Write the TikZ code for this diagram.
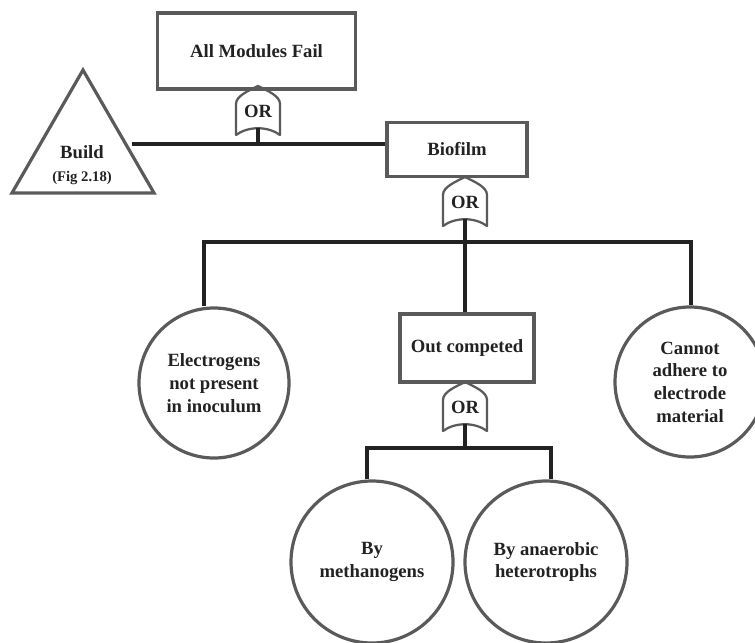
\documentclass[tikz,border=0pt]{standalone}
\usepackage{fontspec}
\setmainfont{Liberation Serif}
\usetikzlibrary{shapes.geometric}

\definecolor{edgegray}{HTML}{5A5A5A}
\definecolor{wiredark}{HTML}{222222}

% OR gate: name, tip position
\newcommand{\orgate}[2]{%
  \begin{scope}[shift={(#2)}]
    \draw[gateline] (0,0) .. controls (10,5) and (22,10) .. (22,18) -- (22,49)
      .. controls (10,40) and (-10,40) .. (-22,49) -- (-22,18)
      .. controls (-22,10) and (-10,5) .. (0,0) -- cycle;
    \node[gatelabel] (#1) at (0,25) {OR};
  \end{scope}}

\begin{document}
\begin{tikzpicture}[x=0.75pt,y=-0.75pt,
    event/.style={draw=edgegray,line width=2.4pt,inner sep=0pt,text=wiredark,
      font=\bfseries\fontsize{14}{17}\selectfont,align=center},
    basic/.style={event,circle},
    gateline/.style={draw=edgegray,line width=1.7pt,line join=round},
    gatelabel/.style={inner sep=0pt,minimum width=33pt,minimum height=25.5pt,
      text=wiredark,font=\bfseries\fontsize{14}{17}\selectfont},
    wire/.style={draw=wiredark,line width=2.5pt}]
    \useasboundingbox (0,0) rectangle (755,642);

    % Events
    \node[event,minimum width=149pt,minimum height=57pt] (top) at (256.5,51) {All Modules Fail};
    \node[event,minimum width=105pt,minimum height=40pt] (biofilm) at (457,149.5) {Biofilm};
    \node[event,minimum width=100.5pt,minimum height=51pt] (outcomp) at (467,348) {Out competed};
    \node[event,regular polygon,regular polygon sides=3,minimum size=123pt] (build) at (83,152) {};
    \node[text=wiredark,font=\bfseries\fontsize{14}{17}\selectfont,align=center] (buildtxt) at (82,165)
      {Build\\[0pt]{\fontsize{11}{13}\selectfont(Fig 2.18)}};

    % Basic events
    \node[basic,minimum size=112.5pt] (electro) at (214,383) {Electrogens\\not present\\in inoculum};
    \node[basic,minimum size=112.5pt] (adhere) at (690,382) {Cannot\\adhere to\\electrode\\material};
    \node[basic,minimum size=121.5pt] (methano) at (372,562) {By\\methanogens};
    \node[basic,minimum size=121.5pt] (anaero) at (546,562) {By anaerobic\\heterotrophs};

    % Gates
    \orgate{or1}{258,86}
    \orgate{or2}{465,177}
    \orgate{or3}{465,382}

    % Buses
    \coordinate (j1) at (258,144);
    \coordinate (b2l) at (204,242);
    \coordinate (b2r) at (691,242);
    \coordinate (b3l) at (367,448);
    \coordinate (b3r) at (551,448);

    % Connectors
    \draw[wire] (build.east |- j1) -- (biofilm.west |- j1);
    \draw[wire] (or1.south) -- (j1);
    \draw[wire] (b2l |- electro.north) -- (b2l) -- (b2r) -- (b2r |- adhere.north);
    \draw[wire] (or2.south) -- (or2.south |- outcomp.north);
    \draw[wire] (b3l |- methano.north) -- (b3l) -- (b3r) -- (b3r |- anaero.north);
    \draw[wire] (or3.south) -- (or3.south |- b3l);
\end{tikzpicture}
\end{document}
